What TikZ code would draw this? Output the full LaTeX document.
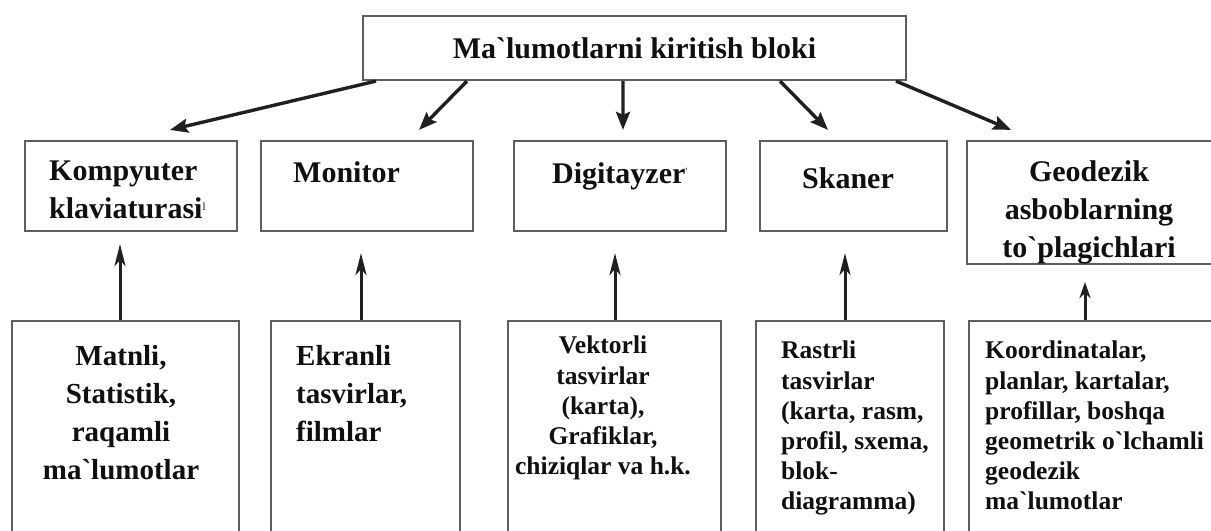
\documentclass[tikz,border=0pt]{standalone}
\usepackage{fontspec}
\setmainfont{Liberation Serif}[Ligatures=TeXOff]
\usetikzlibrary{arrows.meta,positioning,calc}
\definecolor{bxLine}{HTML}{5E5E5E}
\definecolor{arInk}{HTML}{202020}
\definecolor{txInk}{HTML}{101010}
\tikzset{
  blk/.style={draw=bxLine, line width=2.2bp, fill=white, inner sep=0pt},
  arr/.style={-{Stealth[length=18bp,width=14bp,inset=3bp]}, line width=3.4bp, draw=arInk},
  uparr/.style={-{Stealth[length=22bp,width=11bp,inset=6bp]}, line width=3bp, draw=arInk},
  lblbig/.style={inner sep=0pt, text=txInk, font=\bfseries\fontsize{30bp}{38bp}\selectfont},
  lblmid/.style={inner sep=0pt, text=txInk, font=\bfseries\fontsize{29bp}{38bp}\selectfont},
  lblsm/.style={inner sep=0pt, text=txInk, font=\bfseries\fontsize{25.5bp}{30bp}\selectfont}
}
\begin{document}
\begin{tikzpicture}[x=1bp,y=-1bp]
  \useasboundingbox (0,0) rectangle (1211,531);
  \clip (0,0) rectangle (1211,531);
  % input block
  \node[blk, minimum width=543bp, minimum height=64bp, lblbig] (inp) at (634.5,48) {Ma`lumotlarni kiritish bloki};
  % devices
  \node[blk, minimum width=212bp, minimum height=90bp] (kbd) at (131,186) {};
  \node[blk, minimum width=212bp, minimum height=90bp] (mon) at (367,186) {};
  \node[blk, minimum width=212bp, minimum height=90bp] (dig) at (620,186) {};
  \node[blk, minimum width=187bp, minimum height=90bp] (skn) at (853.5,186) {};
  \node[blk, minimum width=248bp, minimum height=123bp] (geo) at (1091,202.5) {};
  \node[lblbig, anchor=base west, align=left] (kbdT) at (49,219) {Kompyuter\\klaviaturasi\textsuperscript{\mdseries\fontsize{11bp}{11bp}\selectfont l}};
  \node[lblbig, anchor=base west] (monT) at (293,183) {Monitor};
  \node[lblbig, anchor=base] (digT) at (620,184) {Digitayzer\textsuperscript{\mdseries\fontsize{11bp}{11bp}\selectfont '}};
  \node[lblbig, anchor=base] (sknT) at (848,189) {Skaner};
  \begin{scope}
    \clip (geo.north west) rectangle (geo.south east);
    \node[lblbig, anchor=base, align=center] (geoT) at (1089,258) {Geodezik\\asboblarning\\to`plagichlari};
  \end{scope}
  % data kinds
  \node[blk, minimum width=227bp, minimum height=224bp] (mat) at (125.5,433) {};
  \node[blk, minimum width=189bp, minimum height=224bp] (ekr) at (365.5,433) {};
  \node[blk, minimum width=213bp, minimum height=224bp] (vek) at (614.5,433) {};
  \node[blk, minimum width=188bp, minimum height=224bp] (ras) at (850,433) {};
  \node[blk, minimum width=246bp, minimum height=224bp] (koo) at (1092,433) {};
  \node[lblmid, anchor=base, align=center] (matT) at (121,479) {Matnli,\\Statistik,\\raqamli\\ma`lumotlar};
  \node[lblmid, anchor=base west, align=left] (ekrT) at (296,441) {Ekranli\\tasvirlar,\\filmlar};
  \node[lblsm, anchor=base, align=center] (vekT) at (603,474) {Vektorli\\tasvirlar\\(karta),\\Grafiklar,\\chiziqlar va h.k.};
  \node[lblsm, anchor=base west, align=left] (rasT) at (781,509) {Rastrli\\tasvirlar\\(karta, rasm,\\profil, sxema,\\blok-\\diagramma)};
  \node[lblsm, anchor=base west, align=left] (kooT) at (985,509) {Koordinatalar,\\planlar, kartalar,\\profillar, boshqa\\geometrik o`lchamli\\geodezik\\ma`lumotlar};
  % arrows
  \foreach \s/\n/\t in {-258.5/kbd/39, -167.5/mon/52, -11.5/dig/3, 145.5/skn/-25.5, 261.5/geo/-80}
    \draw[arr] ([xshift=\s bp]inp.south) -- ([xshift=\t bp,yshift=10bp]\n.north);
  \foreach \n/\m/\s/\g in {mat/kbd/-5.5/12, ekr/mon/-4.5/21, vek/dig/0.5/21, ras/skn/-5/21}
    \draw[uparr, shorten >=\g bp] ([xshift=\s bp]\n.north) -- ([xshift=\s bp]\n.north |- \m.south);
  \draw[uparr, -{Stealth[length=16bp,width=11bp,inset=5bp]}, shorten >=17bp] ([xshift=-7bp]koo.north) -- ([xshift=-7bp]koo.north |- geo.south);
\end{tikzpicture}
\end{document}
